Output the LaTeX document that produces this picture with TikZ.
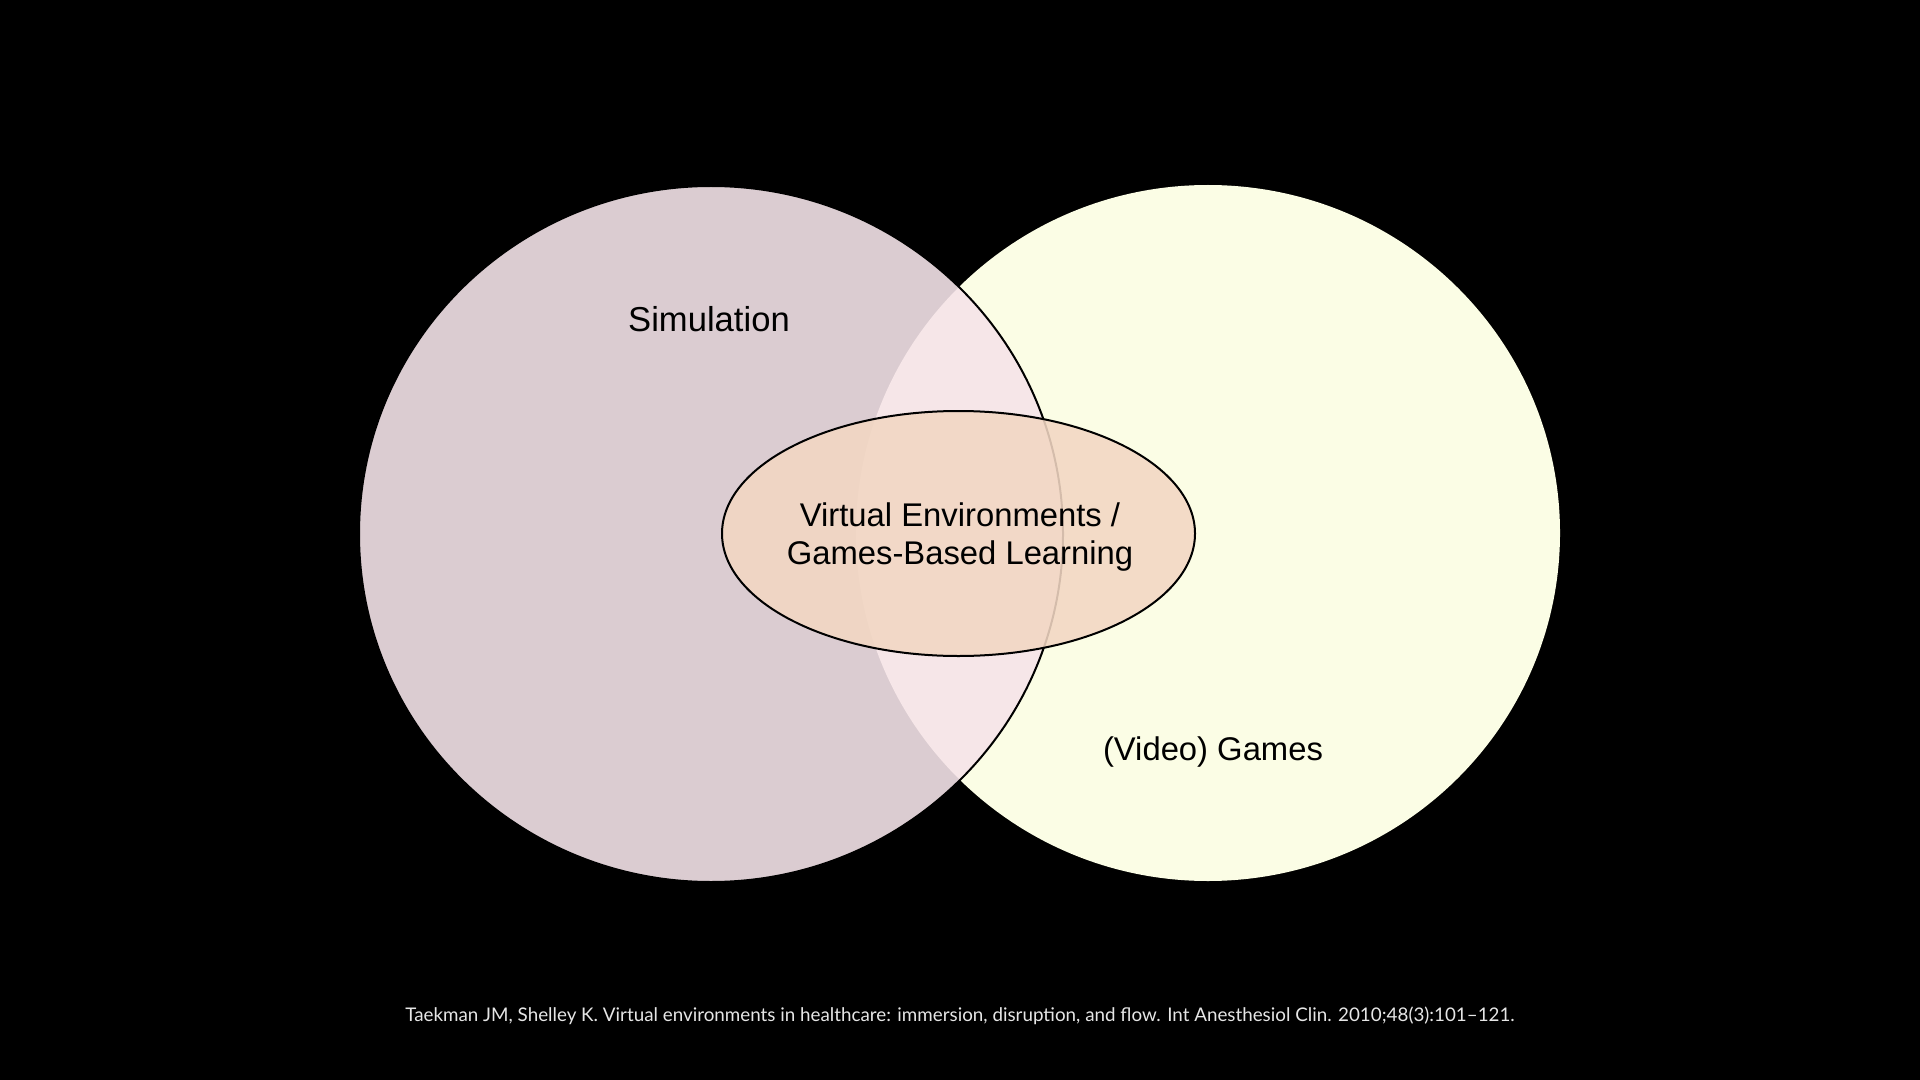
\documentclass[tikz,border=0pt]{standalone}
\usepackage{fontspec}
\setmainfont{Liberation Sans}
\newfontfamily\citefont{Lato}
\definecolor{simfill}{HTML}{DBCCD1}
\definecolor{lensfill}{HTML}{F6E6E8}
\definecolor{gamefill}{HTML}{FBFDE5}
\definecolor{vefill}{HTML}{F2D7C3}
\definecolor{citecol}{HTML}{E6E6E6}
\tikzset{
  lbl/.style={font=\fontsize{16.4pt}{19pt}\selectfont, text=black, align=center, inner sep=0pt},
  biglbl/.style={lbl, font=\fontsize{17.3pt}{19pt}\selectfont},
  cite/.style={font=\citefont\fontsize{9.4pt}{11pt}\selectfont, text=citecol, inner sep=0pt}
}
\begin{document}
\begin{tikzpicture}[x=0.5pt,y=-0.5pt]
\useasboundingbox[fill=black] (0,0) rectangle (1920,1080);
% right circle (Video Games)
\fill[gamefill] (1208,533) ellipse [x radius=176pt, y radius=174pt];
% left circle (Simulation)
\fill[simfill] (711,534) ellipse [x radius=176pt, y radius=174pt];
% lens
\begin{scope}
  \clip (1208,533) ellipse [x radius=176pt, y radius=174pt];
  \fill[lensfill] (711,534) ellipse [x radius=176pt, y radius=174pt];
\end{scope}
\draw[black, line width=1pt] (711,534) ellipse [x radius=176pt, y radius=174pt];
% central ellipse
\fill[vefill, fill opacity=0.88] (958.5,533.5) ellipse [x radius=118.25pt, y radius=61.25pt];
\draw[black, line width=1pt] (958.5,533.5) ellipse [x radius=118.25pt, y radius=61.25pt];
\node[biglbl] (sim) at (709,319) {Simulation};
\node[lbl] (games) at (1213,752) {(Video) Games};
\node[lbl] (ve) at (960,537) {Virtual Environments /\\Games-Based Learning};
\node[cite] (ref) at (960,1016) {Taekman JM, Shelley K. Virtual environments in healthcare: immersion, disruption, and flow. Int Anesthesiol Clin. 2010;48(3):101–121.};
\end{tikzpicture}
\end{document}
